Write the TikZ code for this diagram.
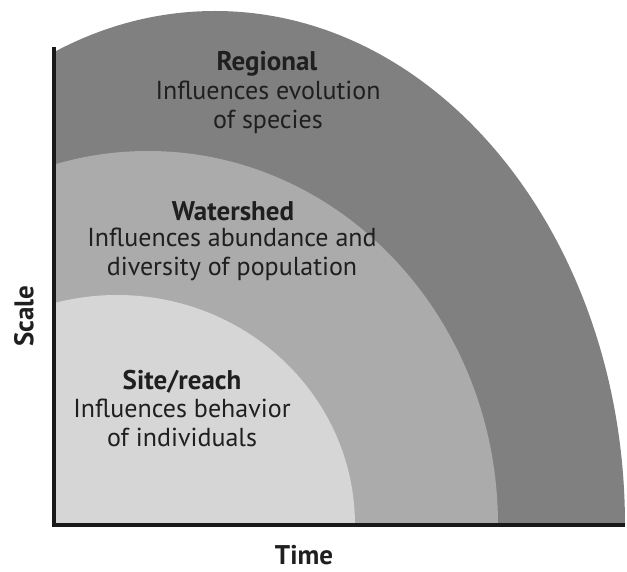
\documentclass[tikz,border=0pt]{standalone}
\usepackage{fontspec}
\setmainfont{PT Sans}
\begin{document}
\begin{tikzpicture}[x=1pt,y=1pt,
  lbl/.style={align=center,inner sep=0pt,font=\fontsize{26}{29}\selectfont,text=black!88},
  ttl/.style={font=\fontsize{27}{29}\selectfont\bfseries,text=black!88,inner sep=0pt},
  axis/.style={line width=4pt,draw=black!90}]
\useasboundingbox (0,0) rectangle (627,571);
\begin{scope}
  \clip (54,46) rectangle (627,571);
  \fill[black!50] (215,46) ellipse [x radius=410, y radius=514];
  \fill[black!33] (148,46) ellipse [x radius=350, y radius=374];
  \fill[black!16] (117,46) ellipse [x radius=238, y radius=230];
\end{scope}
\coordinate (o) at (54,46);
\coordinate (ytop) at (54,524);
\coordinate (xend) at (625,46);
\draw[axis] (ytop) -- (o) -- (xend);
\node[ttl] (reg) at (267,507) {Regional};
\node[lbl,anchor=north] (regt) at (268,490) {Influences evolution\\of species};
\node[ttl] (wat) at (233,360) {Watershed};
\node[lbl,anchor=north] (watt) at (232,343) {Influences abundance and\\diversity of population};
\node[ttl] (site) at (182,189) {Site/reach};
\node[lbl,anchor=north] (sitet) at (182,172) {Influences behavior\\of individuals};
\node[ttl,rotate=90] (scale) at (24,255) {Scale};
\node[ttl] (time) at (304,16) {Time};
\end{tikzpicture}
\end{document}
